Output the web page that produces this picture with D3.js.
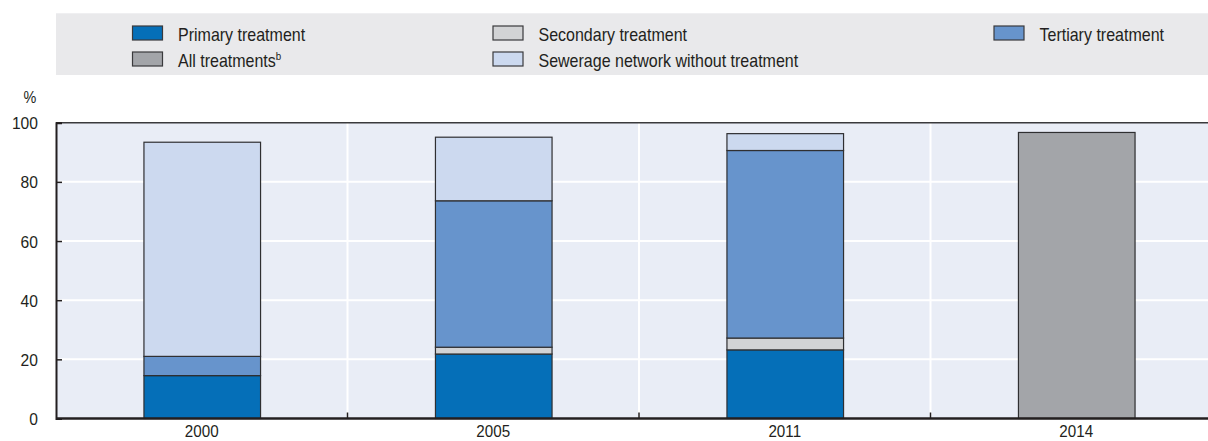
<!DOCTYPE html>
<html>
<head>
<meta charset="utf-8">
<script src="https://cdn.jsdelivr.net/npm/d3@7"></script>
<style>
  html, body { margin: 0; padding: 0; background: #fff; }
  svg text { font-family: "Liberation Sans", Arial, sans-serif; fill: #231f20; }
</style>
</head>
<body>
<svg id="chart" width="1208" height="441"></svg>
<script>
// Years shown on the x axis
const years = ["2000", "2005", "2011", "2014"];

// Share of population connected, by treatment level (%)
const primary   = [14.5, 21.8, 23.2, 0];
const secondary = [0, 2.3, 4.0, 0];
const tertiary  = [6.5, 49.5, 63.4, 0];
const allTreat  = [0, 0, 0, 96.7];
const sewerage  = [72.4, 21.5, 5.7, 0];

const yTicks = [0, 20, 40, 60, 80, 100];

const seriesDefs = [
  { key: "primary",   label: "Primary treatment",                 values: primary,   color: "#056fb8" },
  { key: "secondary", label: "Secondary treatment",               values: secondary, color: "#d2d3d5" },
  { key: "tertiary",  label: "Tertiary treatment",                values: tertiary,  color: "#6794cc" },
  { key: "all",       label: "All treatments",                    values: allTreat,  color: "#a3a5a9", sup: "b" },
  { key: "sewer",     label: "Sewerage network without treatment",values: sewerage,  color: "#ccd9ef" }
];

const svg = d3.select("#chart");
const W = 1208;

// Slightly condensed text, placed at (x, y)
function label(parent, x, y, str, size, sx, anchor) {
  return parent.append("text")
    .attr("transform", `translate(${x},${y}) scale(${sx},1)`)
    .attr("text-anchor", anchor || "start")
    .attr("font-size", size)
    .text(str);
}

const margin = { left: 56, top: 122.7, bottom: 418.5 };
const x = d3.scaleBand().domain(years).range([margin.left, 1222]).paddingInner(0.6).paddingOuter(0.3);
const y = d3.scaleLinear().domain([0, 100]).range([margin.bottom, margin.top]);

// Legend panel
svg.append("rect").attr("x", 56).attr("y", 13.3).attr("width", W - 56).attr("height", 61.7).attr("fill", "#e9e9eb");

const legendPos = [
  { key: "primary",   x: 132, row: 0 },
  { key: "secondary", x: 492.5, row: 0 },
  { key: "tertiary",  x: 993.5, row: 0 },
  { key: "all",       x: 132, row: 1 },
  { key: "sewer",     x: 492.5, row: 1 }
];
legendPos.forEach(p => {
  const s = seriesDefs.find(d => d.key === p.key);
  const top = 26 + p.row * 26;
  svg.append("rect").attr("x", p.x + 0.5).attr("y", top).attr("width", 30).attr("height", 14)
    .attr("fill", s.color).attr("stroke", "#3a3a3c").attr("stroke-width", 1.2);
  const t = label(svg, p.x + 46, top + 14.5, s.label, 18, 0.89);
  if (s.sup) t.append("tspan").attr("font-size", 11).attr("dy", -7).text(s.sup);
});

// Plot background
svg.append("rect").attr("x", margin.left).attr("y", margin.top).attr("width", W - margin.left)
  .attr("height", margin.bottom - margin.top).attr("fill", "#e9edf6");

// Horizontal gridlines
svg.append("g").selectAll("line").data(yTicks.filter(v => v > 0 && v < 100)).join("line")
  .attr("x1", margin.left).attr("x2", W).attr("y1", d => y(d)).attr("y2", d => y(d))
  .attr("stroke", "#fff").attr("stroke-width", 2);

// Vertical separators between years
const step = x.step();
const bounds = years.slice(1).map(d => x(d) - (step - x.bandwidth()) / 2);
svg.append("g").selectAll("line").data(bounds).join("line")
  .attr("x1", d => d).attr("x2", d => d).attr("y1", margin.top).attr("y2", margin.bottom)
  .attr("stroke", "#fff").attr("stroke-width", 2);

// Stacked bars
const stackOrder = ["primary", "secondary", "tertiary", "all", "sewer"];
const rows = years.map((yr, i) => {
  const r = { year: yr };
  seriesDefs.forEach(s => r[s.key] = s.values[i]);
  return r;
});
const stacked = d3.stack().keys(stackOrder)(rows);
stacked.forEach(layer => {
  const s = seriesDefs.find(d => d.key === layer.key);
  svg.append("g").selectAll("rect").data(layer.filter(d => d[1] - d[0] > 0)).join("rect")
    .attr("x", d => x(d.data.year) + 0.5).attr("width", x.bandwidth())
    .attr("y", d => y(d[1])).attr("height", d => y(d[0]) - y(d[1]))
    .attr("fill", s.color).attr("stroke", "#2f2f31").attr("stroke-width", 1.2);
});

// Frame top line
svg.append("line").attr("x1", margin.left).attr("x2", W).attr("y1", margin.top).attr("y2", margin.top)
  .attr("stroke", "#3a3a3c").attr("stroke-width", 1.5);

// Y axis
const yAxis = svg.append("g").attr("transform", `translate(${margin.left},0)`)
  .call(d3.axisLeft(y).tickValues(yTicks).tickSize(-6).tickPadding(18));
yAxis.select(".domain").attr("stroke", "#231f20").attr("stroke-width", 2);
yAxis.selectAll(".tick line").attr("stroke", "#231f20").attr("stroke-width", 1.5);
yAxis.selectAll(".tick text").remove();
yAxis.selectAll(".tick").each(function(d) {
  label(d3.select(this), -18, 6, d, 17, 0.92, "end");
});

// X axis baseline with separator ticks
svg.append("line").attr("x1", margin.left).attr("x2", W).attr("y1", margin.bottom).attr("y2", margin.bottom)
  .attr("stroke", "#231f20").attr("stroke-width", 2.5);
svg.append("g").selectAll("line").data(bounds).join("line")
  .attr("x1", d => d).attr("x2", d => d).attr("y1", margin.bottom).attr("y2", margin.bottom - 6)
  .attr("stroke", "#231f20").attr("stroke-width", 1.5);
years.forEach(d => label(svg, x(d) + x.bandwidth() / 2, 437, d, 16, 0.95, "middle"));

// Unit label
label(svg, 30, 103, "%", 16, 0.9, "middle");
</script>
</body>
</html>
